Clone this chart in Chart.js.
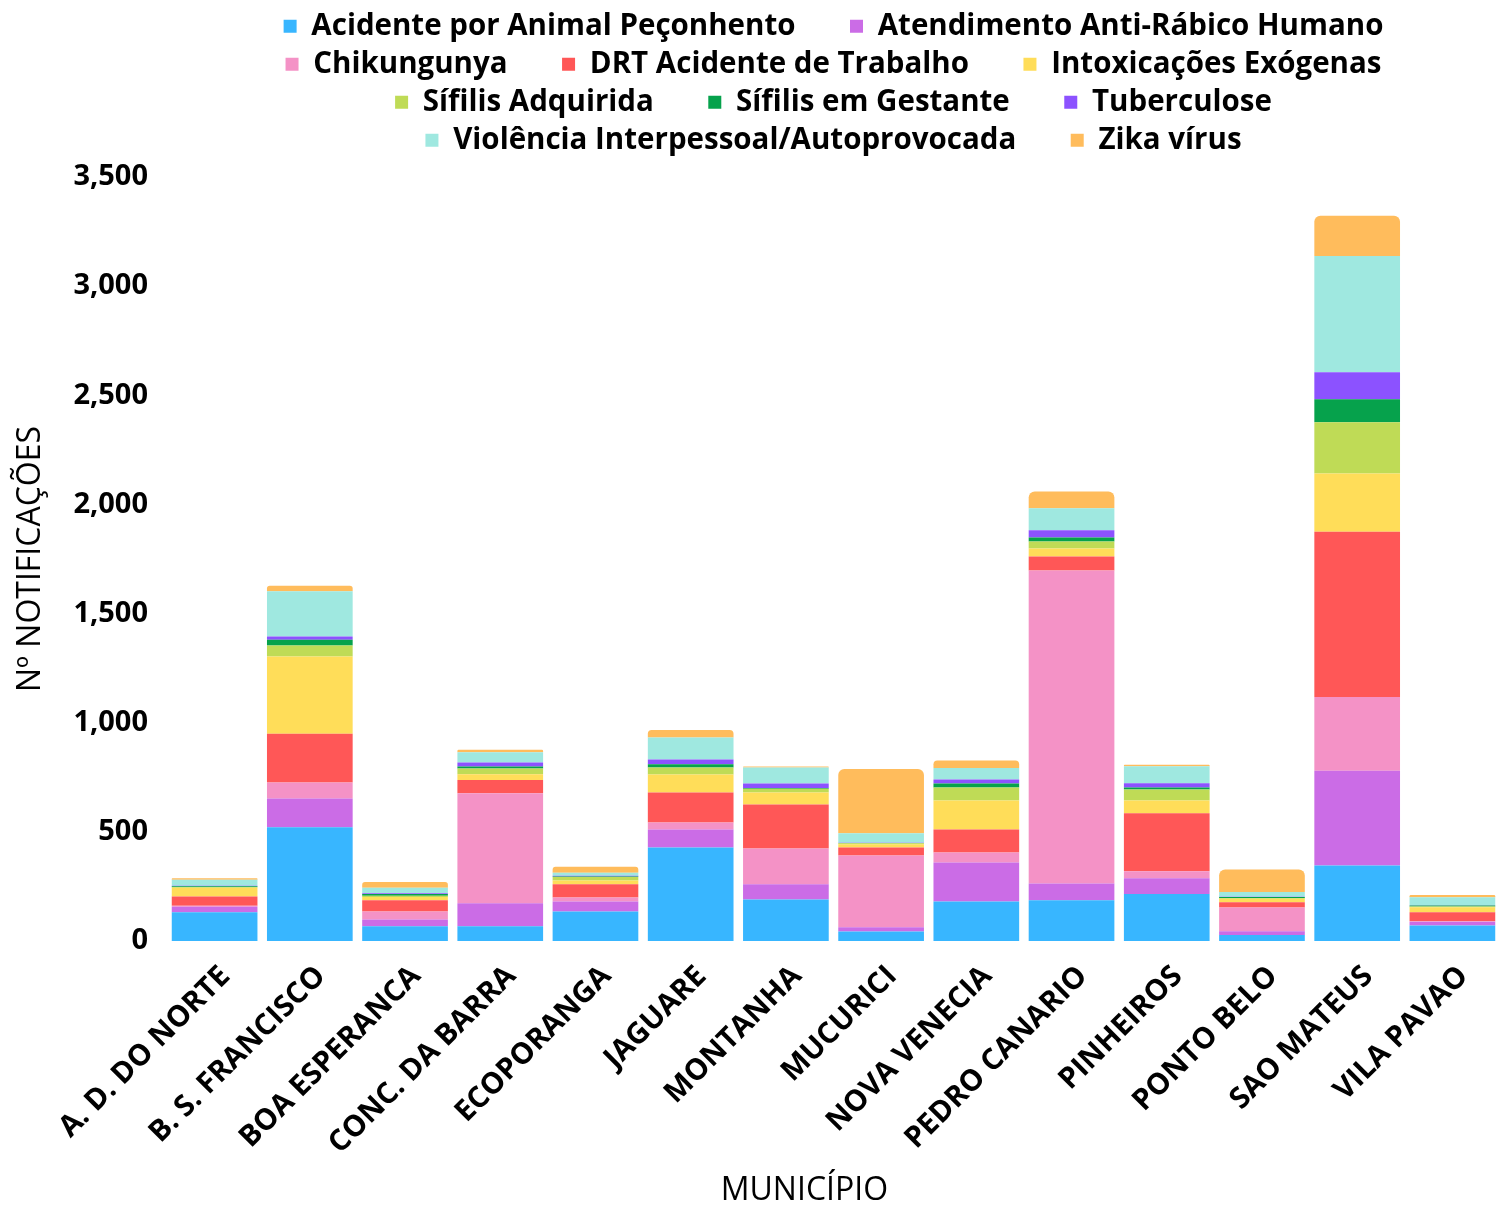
<!DOCTYPE html>
<html>
<head>
<meta charset="utf-8">
<script src="https://cdn.jsdelivr.net/npm/chart.js@4.4.1/dist/chart.umd.min.js"></script>
<style>
  html, body { margin: 0; padding: 0; background: #fff; }
  #wrap { width: 1506px; height: 1207px; position: relative; }
</style>
</head>
<body>
<div id="wrap"><canvas id="chart"></canvas></div>
<script>
const municipios = ['A. D. DO NORTE', 'B. S. FRANCISCO', 'BOA ESPERANCA', 'CONC. DA BARRA', 'ECOPORANGA',
  'JAGUARE', 'MONTANHA', 'MUCURICI', 'NOVA VENECIA', 'PEDRO CANARIO', 'PINHEIROS', 'PONTO BELO',
  'SAO MATEUS', 'VILA PAVAO'];

const acidente    = [132, 521, 68, 68, 135, 428, 190, 43, 181, 187, 215, 27, 346, 71];
const antiRabico  = [25, 132, 30, 105, 46, 83, 70, 20, 179, 76, 73, 18, 434, 17];
const chikungunya = [4, 73, 37, 504, 18, 32, 164, 329, 45, 1434, 32, 108, 338, 2];
const drt         = [43, 224, 52, 60, 61, 137, 201, 36, 106, 64, 265, 25, 757, 42];
const intox       = [40, 353, 14, 27, 17, 83, 55, 15, 133, 37, 59, 15, 267, 23];
const sifAdq      = [3, 51, 6, 26, 16, 32, 18, 5, 59, 32, 50, 4, 235, 3];
const sifGest     = [4, 26, 8, 9, 2, 15, 3, 1, 18, 18, 9, 5, 105, 5];
const tuberc      = [2, 15, 4, 19, 4, 21, 20, 1, 19, 34, 20, 1, 123, 1];
const violencia   = [28, 207, 25, 47, 14, 101, 74, 44, 52, 101, 78, 22, 533, 36];
const zika        = [6, 26, 26, 11, 27, 35, 4, 294, 35, 76, 7, 103, 184, 11];

const yTicks = [0, 500, 1000, 1500, 2000, 2500, 3000, 3500];

Chart.defaults.font.family = "'Open Sans', sans-serif";
Chart.defaults.color = '#000';

const series = [
  ['Acidente por Animal Peçonhento', acidente, '#38b6ff'],
  ['Atendimento Anti-Rábico Humano', antiRabico, '#cb6ce6'],
  ['Chikungunya', chikungunya, '#f492c6'],
  ['DRT Acidente de Trabalho', drt, '#ff5757'],
  ['Intoxicações Exógenas', intox, '#ffdd59'],
  ['Sífilis Adquirida', sifAdq, '#bfdb56'],
  ['Sífilis em Gestante', sifGest, '#06a24c'],
  ['Tuberculose', tuberc, '#8c52ff'],
  ['Violência Interpessoal/Autoprovocada', violencia, '#9fe8e0'],
  ['Zika vírus', zika, '#ffbc5c'],
];

// last item of each legend row gets no extra gap
const rowEnds = ['Atendimento Anti-Rábico Humano', 'Intoxicações Exógenas', 'Tuberculose', 'Zika vírus'];

const mctx = document.createElement('canvas').getContext('2d');
function spaces(font, w) {
  mctx.font = font;
  let s = '';
  while (mctx.measureText(s).width < w) s += ' ';
  return s;
}
const gap = spaces("bold 29.5px 'Open Sans'", 43);
const titleTail = spaces("32px 'Open Sans'", 54);

// a bit of room between legend and plot
const legendSpace = {
  id: 'legendSpace',
  beforeInit(chart) {
    const fit = chart.legend.fit;
    chart.legend.fit = function () {
      fit.call(this);
      this.height += 12;
    };
  },
};

new Chart(document.getElementById('chart'), {
  type: 'bar',
  data: {
    labels: municipios,
    datasets: series.map(([label, values, color]) => ({
      label,
      data: values,
      backgroundColor: color,
      borderWidth: 0,
      borderRadius: 6,
      categoryPercentage: 0.9,
      barPercentage: 1.0,
    })),
  },
  plugins: [legendSpace],
  options: {
    responsive: true,
    maintainAspectRatio: false,
    animation: false,
    layout: { padding: { left: 0, right: 6, top: 3, bottom: 0 } },
    plugins: {
      tooltip: { enabled: false },
      legend: {
        position: 'top',
        fullSize: false,
        labels: {
          font: { size: 29.5, weight: 'bold' },
          color: '#000',
          boxWidth: 13,
          boxHeight: 13,
          padding: 8.5,
          generateLabels(chart) {
            const items = Chart.defaults.plugins.legend.labels.generateLabels(chart);
            items.forEach(it => {
              it.lineWidth = 0;
              if (!rowEnds.includes(it.text)) it.text = it.text + gap;
            });
            return items;
          },
        },
      },
    },
    scales: {
      x: {
        stacked: true,
        grid: { display: false },
        border: { display: false },
        ticks: {
          autoSkip: false,
          maxRotation: 45,
          minRotation: 45,
          padding: 10,
          labelOffset: 11,
          font: { size: 29.5, weight: 'bold' },
          color: '#000',
        },
        title: {
          display: true,
          text: 'MUNICÍPIO' + titleTail,
          font: { size: 32, weight: 'normal', lineHeight: 1 },
          color: '#000',
          padding: { top: 4, bottom: 0 },
        },
        afterFit(scale) { scale.height = 266; },
      },
      y: {
        stacked: true,
        min: 0,
        max: 3500,
        grid: { display: false },
        border: { display: false },
        afterBuildTicks(scale) { scale.ticks = yTicks.map(v => ({ value: v })); },
        ticks: {
          font: { size: 29, weight: 'bold' },
          color: '#000',
          padding: 11,
          callback: v => v.toLocaleString('en-US'),
        },
        title: {
          display: true,
          text: 'Nº NOTIFICAÇÕES',
          font: { size: 32, weight: 'normal' },
          color: '#000',
          padding: { top: 12, bottom: 4 },
        },
        afterFit(scale) { scale.width = 167; },
      },
    },
  },
});
</script>
</body>
</html>
